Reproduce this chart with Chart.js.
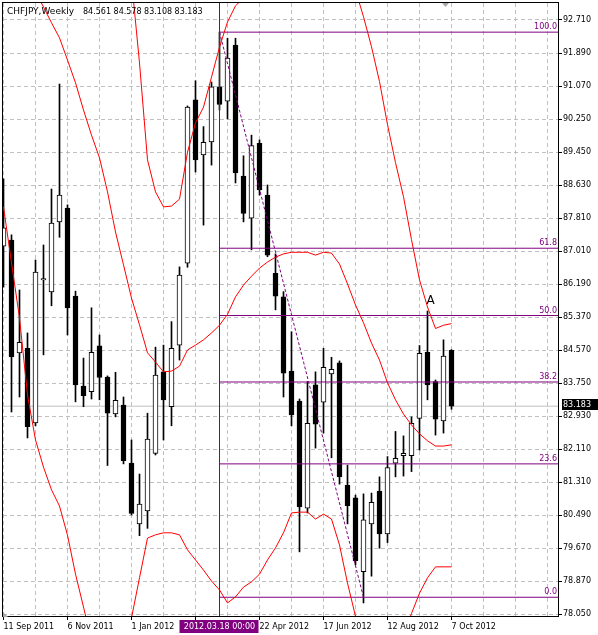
<!DOCTYPE html>
<html><head><meta charset="utf-8">
<script src="https://cdn.jsdelivr.net/npm/chart.js@4.4.1/dist/chart.umd.min.js"></script>
<style>html,body{margin:0;padding:0;background:#fff;overflow:hidden}canvas{display:block}</style>
</head><body>
<canvas id="c" width="598" height="635"></canvas>
<script>
// ---------- data ----------
const symbolTitle = 'CHFJPY,Weekly';
const lastBarText = '84.561 84.578 83.108 83.183';
const xTickLabels = ['11 Sep 2011','6 Nov 2011','1 Jan 2012','26 Feb 2012','22 Apr 2012','17 Jun 2012','12 Aug 2012','7 Oct 2012'];
const yTickLabels = ['78.050','78.870','79.670','80.490','81.310','82.110','82.930','83.750','84.570','85.370','86.190','87.010','87.810','88.630','89.450','90.250','91.070','91.890','92.710'];

const opens  = [87.13,87.28,84.50,84.61,82.77,86.30,86.00,87.73,88.07,85.90,83.68,83.54,84.67,83.90,82.99,83.21,81.78,80.28,80.60,82.02,84.03,83.17,84.69,86.71,90.74,89.38,89.70,91.06,90.71,92.09,88.86,87.82,89.67,88.39,86.46,85.88,84.05,83.31,80.67,83.71,83.28,83.98,84.25,81.24,80.92,79.10,80.28,81.09,80.03,81.78,81.96,81.96,82.88,84.51,83.79,82.82,84.561];
const highs  = [88.79,87.41,86.05,84.99,86.79,87.16,88.54,91.13,88.15,86.02,84.37,85.61,84.94,83.93,84.02,83.41,82.35,81.51,83.01,84.64,84.69,85.27,86.62,90.59,91.21,90.08,91.18,92.41,92.26,92.26,89.36,89.87,89.75,88.64,86.94,86.01,85.02,83.36,83.79,84.03,84.61,84.39,84.30,81.73,80.99,81.02,81.04,81.44,81.94,82.56,82.45,82.92,84.68,85.53,83.83,84.82,84.578];
const lows   = [86.12,83.04,83.41,82.40,82.70,84.45,85.66,87.35,84.94,83.29,83.17,83.36,83.34,81.72,82.92,81.76,80.50,79.99,80.17,81.98,82.35,82.70,84.32,86.61,88.96,87.65,89.13,90.49,90.27,88.69,87.73,87.04,88.39,86.87,85.56,83.41,82.70,79.59,80.55,82.15,82.52,81.91,81.26,80.28,79.27,78.33,78.99,79.68,79.82,81.44,81.46,81.57,82.10,83.34,82.47,82.52,83.108];
const closes = [87.58,84.40,84.76,82.68,86.49,86.33,87.70,88.39,85.61,83.71,83.44,84.51,83.89,83.01,83.33,81.84,80.54,80.77,82.37,83.95,83.34,84.61,86.42,90.56,89.26,89.69,91.06,90.63,91.77,88.94,87.94,89.61,88.52,86.91,85.90,84.00,82.97,80.70,82.76,82.74,84.14,84.09,81.44,80.73,79.37,80.38,80.81,80.03,81.67,81.90,82.02,82.76,84.49,83.71,82.86,84.42,83.183];

const bbUpper  = [102.7,103.0,103.4,104.5,104.6,104.4,104.1,103.8,103.4,103.2,102.7,102.3,101.7,100.3,98.2,96.1,93.7,91.65,89.26,88.47,88.10,88.12,88.29,89.45,90.17,90.56,91.30,92.04,92.66,93.06,93.25,93.9,94.1,94.1,94.0,93.8,93.45,93.4,93.4,93.42,93.44,93.5,93.6,93.58,93.45,92.79,92.05,91.19,90.13,89.19,88.35,87.29,86.30,85.63,85.10,85.18,85.22];
const bbMiddle = [95.4,95.0,94.5,94.0,93.4,93.03,92.64,92.27,91.72,91.16,90.49,89.87,89.31,88.47,87.48,86.67,85.85,85.19,84.50,84.27,84.03,84.05,84.17,84.57,84.69,84.82,84.99,85.18,85.45,85.88,86.17,86.39,86.59,86.74,86.86,86.94,86.98,86.98,86.98,86.91,86.98,86.96,86.69,86.20,85.68,85.24,84.74,84.32,83.76,83.34,82.99,82.72,82.50,82.33,82.20,82.20,82.23];
const bbLower  = [88.10,86.72,85.36,83.46,82.35,81.68,81.12,80.72,80.00,79.04,78.23,77.4,76.9,76.6,76.8,77.2,77.96,78.95,79.93,80.01,80.06,80.06,80.01,79.64,79.39,79.14,78.87,78.65,78.33,78.48,78.72,78.85,79.04,79.39,79.69,80.06,80.55,80.57,80.57,80.40,80.52,80.40,79.76,78.82,78.00,77.55,77.50,77.45,77.40,77.45,77.55,78.07,78.57,78.95,79.22,79.22,79.22];

const fibLabels = ['100.0','61.8','50.0','38.2','23.6','0.0'];
const fibLevels = [92.41,87.08,85.42,83.78,81.76,78.47];
const fibStartWeek = 27;   // 2012.03.18
const fibEndWeek = 45;
const timeLabel = '2012.03.18 00:00';
const noteText = 'A';
const noteWeek = 53;
const notePrice = 85.74;

// ---------- layout ----------
const yMin = 77.983, yMax = 93.129;
const xMin = -0.0625, xMax = 69.4375;
const xGridWeeks = [0,4,8,12,16,20,24,28,32,36,40,44,48,52,56,60,64,68];
const yTickLow = parseFloat(yTickLabels[0]);
const yTickHigh = parseFloat(yTickLabels[yTickLabels.length - 1]);
const lastClose = closes[closes.length - 1];
const purple = '#800080';
const FONT = 'DejaVu Sans';

const idx = opens.map((_, i) => i);
const datasets = [];

datasets.push({
  type: 'line', label: 'price', order: 10,
  data: [{x: xMin, y: lastClose}, {x: xMax, y: lastClose}],
  borderColor: '#c0c0c0', borderWidth: 1, pointRadius: 0, fill: false
});
datasets.push({
  type: 'bar', label: 'wicks', order: 8, grouped: false,
  data: idx.map(i => ({x: i, y: [lows[i], highs[i]]})),
  backgroundColor: '#000', borderWidth: 0, barThickness: 1
});
datasets.push({
  type: 'bar', label: 'bodies', order: 7, grouped: false,
  data: idx.map(i => ({x: i, y: [opens[i], closes[i]]})),
  backgroundColor: idx.map(i => closes[i] >= opens[i] ? '#ffffff' : '#000000'),
  borderColor: '#000', borderWidth: 1, borderSkipped: false, barThickness: 5
});
fibLevels.forEach((p, i) => datasets.push({
  type: 'line', label: 'fib' + fibLabels[i], order: 4,
  data: [{x: fibStartWeek, y: p}, {x: xMax, y: p}],
  borderColor: purple, borderWidth: 1, pointRadius: 0, fill: false
}));
datasets.push({
  type: 'line', label: 'vline', order: 4,
  data: [{x: fibStartWeek, y: yMin}, {x: fibStartWeek, y: yMax}],
  borderColor: purple, borderWidth: 1, pointRadius: 0, fill: false
});
datasets.push({
  type: 'line', label: 'trend', order: 4,
  data: [{x: fibStartWeek, y: fibLevels[0]}, {x: fibEndWeek, y: fibLevels[fibLevels.length - 1]}],
  borderColor: purple, borderWidth: 1, borderDash: [3, 2], pointRadius: 0, fill: false
});
[bbUpper, bbMiddle, bbLower].forEach((arr, j) => datasets.push({
  type: 'line', label: 'bb' + j, order: 2,
  data: idx.map(i => ({x: i, y: arr[i]})),
  borderColor: '#ff0000', borderWidth: 1, pointRadius: 0, fill: false, tension: 0
}));

const overlay = {
  id: 'overlay',
  beforeDraw(chart) {
    const c = chart.ctx; c.save(); c.fillStyle = '#fff'; c.fillRect(0, 0, chart.width, chart.height); c.restore();
  },
  afterDraw(chart) {
    const {ctx, chartArea: a, scales: {x, y}} = chart;
    ctx.save();
    // frame
    ctx.strokeStyle = '#000'; ctx.lineWidth = 1;
    ctx.strokeRect(a.left - 0.5, a.top - 0.5, a.right - a.left, a.bottom - a.top);
    // fib labels
    ctx.font = '8px "' + FONT + '"'; ctx.fillStyle = purple;
    ctx.textAlign = 'right'; ctx.textBaseline = 'alphabetic';
    fibLevels.forEach((p, i) => ctx.fillText(fibLabels[i], a.right - 2, Math.round(y.getPixelForValue(p)) - 3));
    // note A
    ctx.fillStyle = '#000'; ctx.textAlign = 'center'; ctx.font = '12px "' + FONT + '"';
    ctx.fillText(noteText, x.getPixelForValue(noteWeek) + 3, y.getPixelForValue(notePrice) + 1);
    // title
    ctx.textAlign = 'left';
    ctx.font = '9px "' + FONT + '"'; ctx.fillText(symbolTitle, 7, 14);
    ctx.font = '8px "' + FONT + '"'; ctx.fillText(lastBarText, 83, 14);
    // current price box
    const py = Math.round(y.getPixelForValue(lastClose));
    ctx.fillStyle = '#000'; ctx.fillRect(a.right + 3, py - 7, chart.width - a.right - 3, 11);
    ctx.fillStyle = '#fff'; ctx.textBaseline = 'middle';
    ctx.fillText(lastClose.toFixed(3), a.right + 4, py - 1.5);
    // time box
    const tx = x.getPixelForValue(fibStartWeek);
    ctx.fillStyle = purple; ctx.fillRect(tx - 40, a.bottom + 3, 79, 13);
    ctx.fillStyle = '#fff'; ctx.textAlign = 'center';
    ctx.fillText(timeLabel, tx, a.bottom + 9.5);
    // small markers
    ctx.fillStyle = '#a8a8a8';
    ctx.beginPath(); ctx.moveTo(a.right - 117, a.top); ctx.lineTo(a.right - 110, a.top); ctx.lineTo(a.right - 113.5, a.top + 4); ctx.closePath(); ctx.fill();
    ctx.beginPath(); ctx.moveTo(a.left, a.bottom - 5); ctx.lineTo(a.left, a.bottom); ctx.lineTo(a.left + 5, a.bottom); ctx.closePath(); ctx.fill();
    ctx.restore();
  }
};

new Chart(document.getElementById('c'), {
  type: 'bar',
  data: { datasets },
  options: {
    responsive: false, animation: false, devicePixelRatio: 1, events: [],
    layout: { padding: { left: 3, top: 3, right: 0, bottom: 0 } },
    plugins: { legend: { display: false }, tooltip: { enabled: false } },
    scales: {
      x: {
        type: 'linear', min: xMin, max: xMax, offset: false,
        grid: {
          color: '#c0c0c0', lineWidth: 1, offset: false, drawTicks: true, tickLength: 3, tickWidth: 1,
          tickColor: c => (c.tick && c.tick.value % 8 === 0 && c.tick.value <= 56) ? '#000' : 'rgba(0,0,0,0)'
        },
        border: { display: false, dash: [4, 3] },
        afterBuildTicks: s => { s.ticks = xGridWeeks.map(v => ({value: v})); },
        afterFit: s => { s.height = 18; s.paddingLeft = 0; s.paddingRight = 0; },
        ticks: {
          autoSkip: false, maxRotation: 0, minRotation: 0, align: 'start', padding: 2, color: '#000',
          font: { family: FONT, size: 8 },
          callback: v => (v % 8 === 0 && xTickLabels[v / 8]) ? xTickLabels[v / 8] : ''
        }
      },
      y: {
        type: 'linear', position: 'right', min: yMin, max: yMax,
        grid: { color: '#c0c0c0', lineWidth: 1, tickColor: '#000', tickLength: 3, tickWidth: 1 },
        border: { display: false, dash: [4, 3] },
        afterBuildTicks: s => {
          s.ticks = yTickLabels.map((t, i) => ({value: yTickLow + i * (yTickHigh - yTickLow) / (yTickLabels.length - 1)}));
        },
        afterFit: s => { s.width = 39; s.paddingTop = 0; s.paddingBottom = 0; },
        ticks: { autoSkip: false, padding: 1, color: '#000', font: { family: FONT, size: 8 }, callback: (v, i) => yTickLabels[i] }
      }
    }
  },
  plugins: [overlay]
});
</script>
</body></html>
